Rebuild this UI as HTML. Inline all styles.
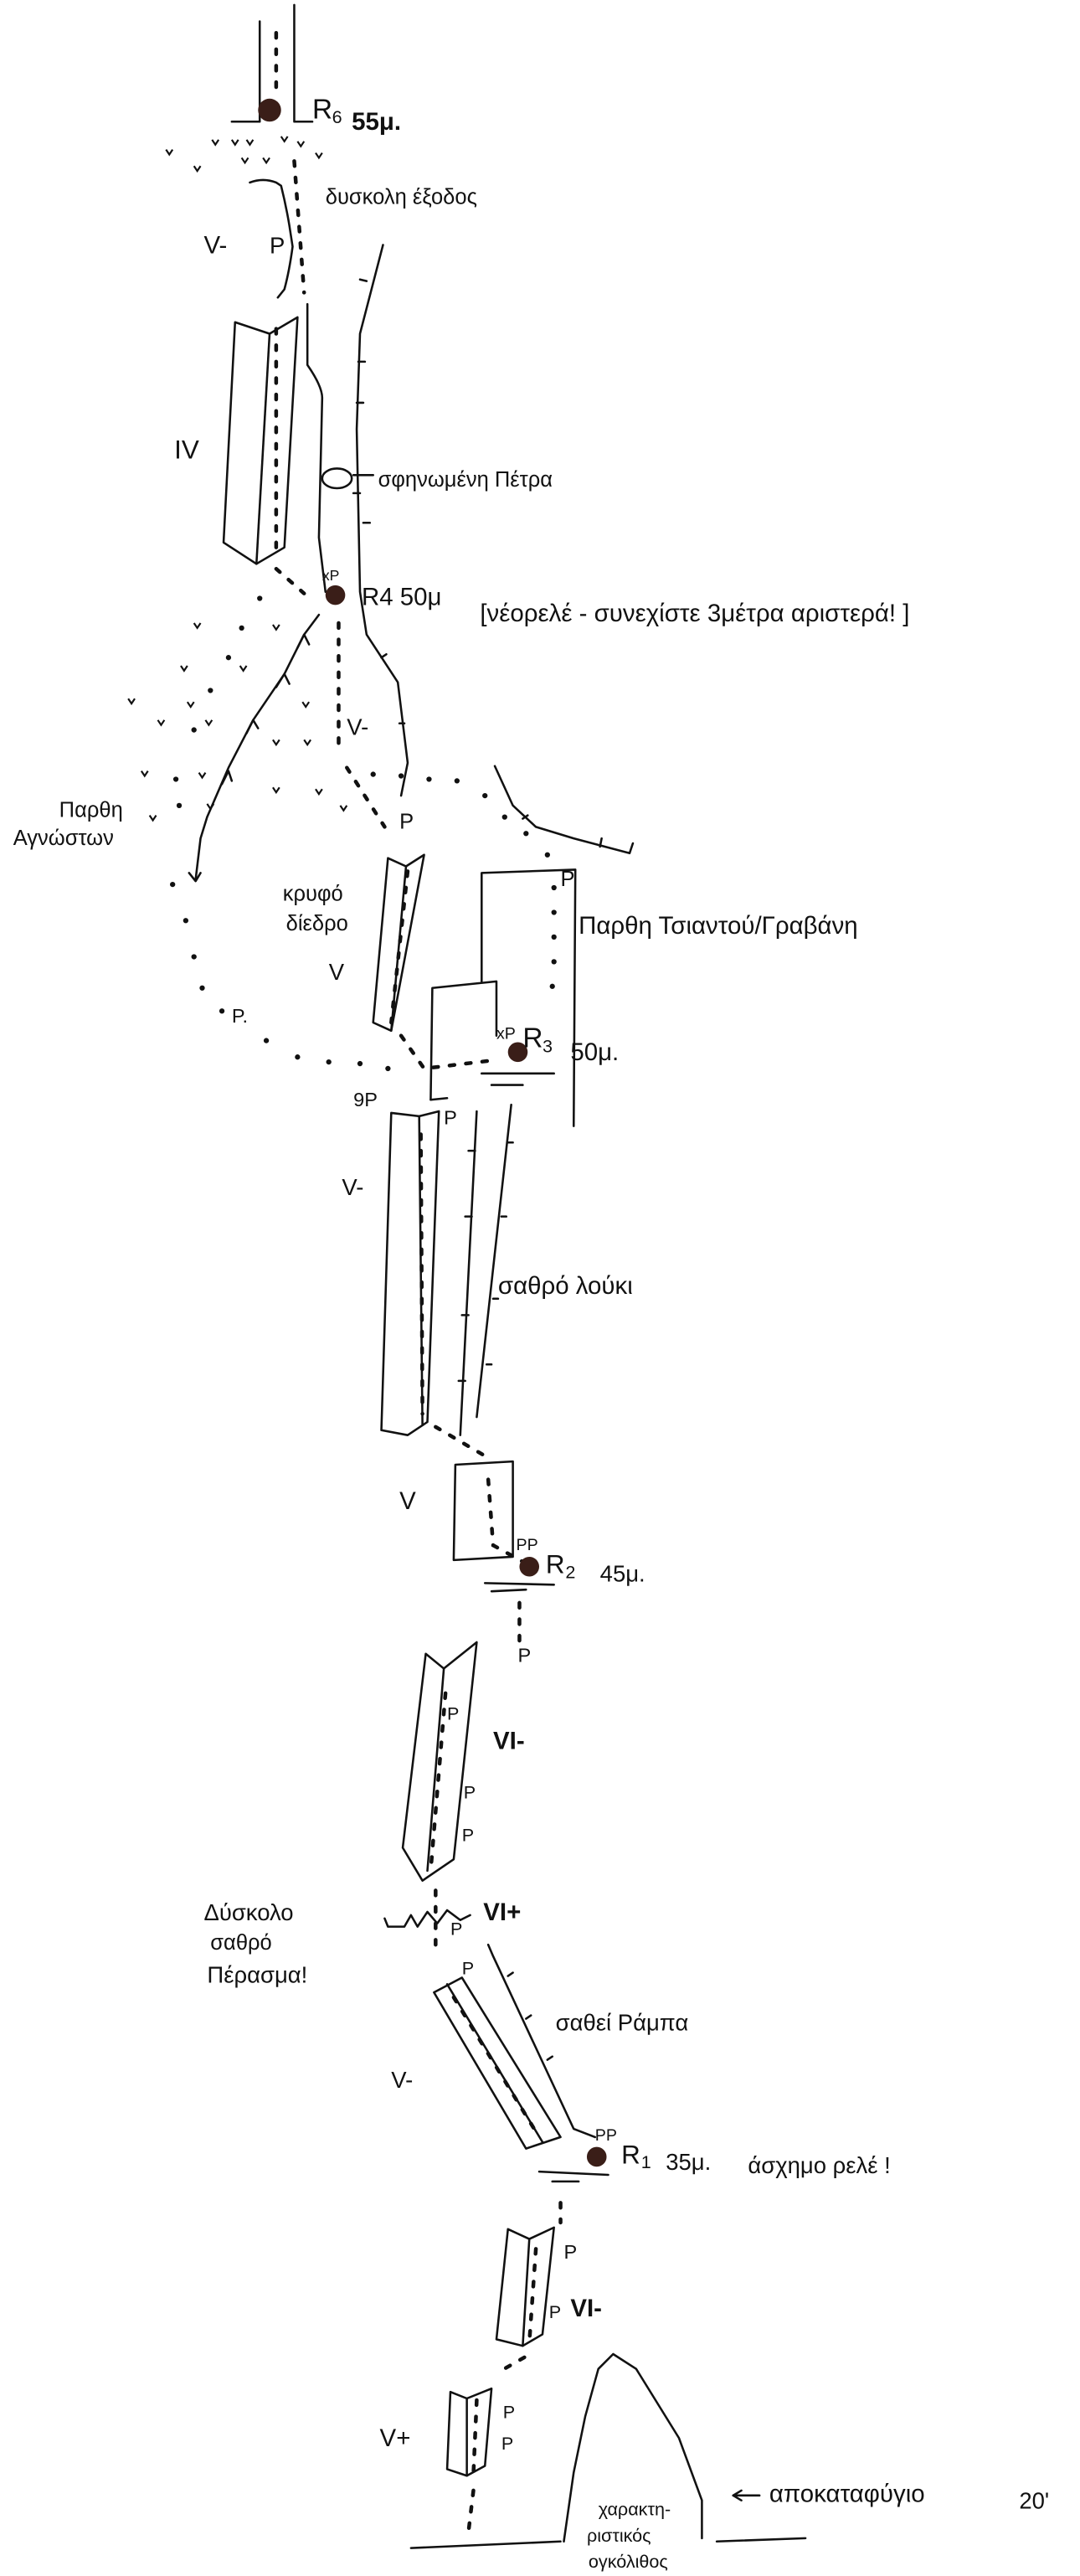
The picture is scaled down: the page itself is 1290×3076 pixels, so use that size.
<!DOCTYPE html>
<html><head><meta charset="utf-8"><style>
html,body{margin:0;padding:0;background:#fff;}
svg{display:block}
text{font-family:"Liberation Sans","DejaVu Sans",sans-serif;fill:#111;}
</style></head><body>
<svg width="1290" height="3076" viewBox="0 0 657 1567" preserveAspectRatio="none" xmlns="http://www.w3.org/2000/svg">
<g fill="none" stroke="#111" stroke-width="1.3" stroke-linecap="round" stroke-linejoin="round">
<path d="M158 13 L158 74 L141 74"/><path d="M179 3 L179 74 L190 74"/>
<path d="M152 111 Q160 108 168 111 L171 113 Q174 125 176 137 L178 150 Q176 165 173 176 L169 181"/>
<path d="M187 185 L187 222 Q196 235 196 242 L194 327 L198 360"/>
<path d="M233 149 L219 203 L217 261 L219 360 L223 386 L242 415 L248 464 L244 484"/>
<path d="M219 170 l4 1 M218 220 l4 0 M217 245 l4 0 M219 300 l-4 0 M221 318 l4 0 M232 400 l3 -2 M246 440 l-3 0"/>
<path d="M143 196 L164 203 L181 193 L173 333 L156 343 L136 330 Z"/><path d="M164 203 L156 343"/>
<ellipse cx="205" cy="291" rx="9" ry="6"/><path d="M215 289 L227 289"/>
<path d="M194 374 L185 386 L173 410 L154 438 L139 467 L126 497 L122 510 L119 535"/>
<path d="M181 394 l4 -8 l3 6 M168 418 l5 -8 l3 6 M150 446 l4 -8 l3 5 M135 477 l4 -8 l2 6 M115 531 l4 5 l3 -5"/>
<path d="M301 466 L312 490 L326 503 L349 510 L383 519 M383 519 l2 -6 M365 515 l1 -5 M318 498 l3 -2"/>
<path d="M236 522 L247 527 L258 520 L238 627 L227 622 Z"/><path d="M247 527 L238 627"/>
<path d="M293 597 L293 531 L350 529 L349 685"/>
<path d="M262 669 L263 601 L302 597 L302 630"/><path d="M262 669 L272 668"/>
<path d="M293 653 L337 653 M299 660 L318 660"/>
<path d="M238 677 L255 679 L267 676 L260 865 L248 873 L232 870 Z"/><path d="M255 679 L257 867"/>
<path d="M290 676 L280 873"/><path d="M311 672 L290 862"/>
<path d="M289 700 l-4 0 M287 740 l-4 0 M285 800 l-4 0 M283 840 l-4 0 M309 695 l3 0 M305 740 l3 0 M300 790 l3 0 M296 830 l3 0"/>
<path d="M277 891 L312 889 L312 947 L276 949 Z"/>
<path d="M295 963 L337 964 M299 968 L320 967"/>
<path d="M259 1006 L270 1015 L290 999 L276 1131 L257 1144 L245 1124 Z"/><path d="M270 1015 L260 1138"/>
<path d="M234 1167 L236 1172 L246 1172 L250 1165 L254 1172 L260 1163 L266 1170 L272 1162 L280 1168 L286 1165"/>
<path d="M264 1212 L281 1203 L341 1300 L320 1307 Z"/><path d="M272 1207 L330 1303"/>
<path d="M297 1183 L300 1190 L349 1295 L362 1300 M309 1202 l3 -2 M320 1228 l3 -2 M333 1253 l3 -2"/>
<path d="M328 1321 L370 1323 M336 1327 L352 1327"/>
<path d="M309 1356 L322 1362 L337 1355 L330 1420 L318 1427 L302 1423 Z"/><path d="M322 1362 L318 1427"/>
<path d="M274 1455 L284 1459 L299 1453 L295 1500 L284 1506 L272 1502 Z"/><path d="M284 1459 L284 1506"/>
<path d="M250 1550 L341 1546"/><path d="M436 1546 L490 1544"/>
<path d="M343 1546 L349 1504 L356 1470 L364 1441 L373 1432 L387 1441 L413 1483 L427 1521 L427 1544"/>
<path d="M446 1518 L462 1518 M446 1518 l5 -3 M446 1518 l5 3"/>
</g>
<g fill="none" stroke="#111" stroke-width="2.3" stroke-linecap="round" stroke-dasharray="3 7">
<path d="M168 20 L168 58"/>
<path d="M179 98 L185 178"/>
<path d="M168 200 L168 336"/>
<path d="M168 346 L185 361"/>
<path d="M206 379 L206 457"/>
<path d="M211 467 L234 503"/>
<path d="M248 530 L238 622"/>
<path d="M244 630 L258 650 L300 645"/>
<path d="M256 690 L257 860"/>
<path d="M265 868 L299 888"/>
<path d="M297 900 L300 940 L318 950"/>
<path d="M316 975 L316 998"/>
<path d="M271 1030 L262 1138"/>
<path d="M265 1150 L265 1190"/>
<path d="M276 1215 L328 1300"/>
<path d="M341 1340 L341 1352"/>
<path d="M326 1368 L322 1425"/>
<path d="M319 1434 L305 1442"/>
<path d="M290 1460 L288 1505"/>
<path d="M288 1515 L285 1540"/>
</g>
<g fill="#111">
<circle cx="158" cy="364" r="1.6"/><circle cx="147" cy="382" r="1.6"/><circle cx="139" cy="400" r="1.6"/><circle cx="128" cy="420" r="1.6"/><circle cx="118" cy="444" r="1.6"/><circle cx="107" cy="474" r="1.6"/><circle cx="109" cy="490" r="1.6"/>
<circle cx="105" cy="538" r="1.6"/><circle cx="113" cy="560" r="1.6"/><circle cx="118" cy="582" r="1.6"/><circle cx="123" cy="601" r="1.6"/><circle cx="135" cy="615" r="1.6"/><circle cx="162" cy="633" r="1.6"/><circle cx="181" cy="643" r="1.6"/><circle cx="200" cy="646" r="1.6"/><circle cx="219" cy="647" r="1.6"/><circle cx="236" cy="650" r="1.6"/>
<circle cx="227" cy="471" r="1.6"/><circle cx="244" cy="472" r="1.6"/><circle cx="261" cy="474" r="1.6"/><circle cx="278" cy="475" r="1.6"/><circle cx="295" cy="484" r="1.6"/><circle cx="307" cy="497" r="1.6"/><circle cx="320" cy="507" r="1.6"/><circle cx="333" cy="520" r="1.6"/>
<circle cx="337" cy="540" r="1.6"/><circle cx="337" cy="555" r="1.6"/><circle cx="337" cy="570" r="1.6"/><circle cx="337" cy="585" r="1.6"/><circle cx="336" cy="600" r="1.6"/>
<circle cx="164" cy="67" r="7" fill="#3a1e18"/>
<circle cx="204" cy="362" r="6" fill="#3a1e18"/>
<circle cx="315" cy="640" r="6" fill="#3a1e18"/>
<circle cx="322" cy="953" r="6" fill="#3a1e18"/>
<circle cx="363" cy="1312" r="6" fill="#3a1e18"/>
</g>
<g fill="none" stroke="#111" stroke-width="1.1">
<path d="M101 91 l2 3 l2 -3 M118 101 l2 3 l2 -3 M129 85 l2 3 l2 -3 M141 85 l2 3 l2 -3 M150 85 l2 3 l2 -3 M147 96 l2 3 l2 -3 M160 96 l2 3 l2 -3 M181 86 l2 3 l2 -3 M192 93 l2 3 l2 -3 M171 83 l2 3 l2 -3"/>
<path d="M118 379 l2 3 l2 -3 M166 380 l2 3 l2 -3 M110 405 l2 3 l2 -3 M146 405 l2 3 l2 -3 M78 425 l2 3 l2 -3 M96 438 l2 3 l2 -3 M114 427 l2 3 l2 -3 M125 438 l2 3 l2 -3 M184 427 l2 3 l2 -3 M166 450 l2 3 l2 -3 M185 450 l2 3 l2 -3 M86 469 l2 3 l2 -3 M121 470 l2 3 l2 -3 M166 479 l2 3 l2 -3 M192 480 l2 3 l2 -3 M91 496 l2 3 l2 -3 M126 489 l2 3 l2 -3 M207 490 l2 3 l2 -3"/>
</g>
<g font-size="14">
<text x="190" y="72" font-size="17">R</text><text x="202" y="75" font-size="11">6</text><text x="214" y="79" font-size="15" font-weight="bold">55μ.</text>
<text x="198" y="124" font-size="13">δυσκολη έξοδος</text>
<text x="124" y="154" font-size="15" font-family="Liberation Serif">V-</text><text x="164" y="154" font-size="14">P</text>
<text x="106" y="279" font-size="16" font-family="Liberation Serif">IV</text>
<text x="230" y="296" font-size="13">σφηνωμένη Πέτρα</text>
<text x="196" y="353" font-size="9">xP</text>
<text x="220" y="368" font-size="15">R4 50μ</text>
<text x="292" y="378" font-size="15">[νέορελέ - συνεχίστε 3μέτρα αριστερά! ]</text>
<text x="211" y="447" font-size="14" font-family="Liberation Serif">V-</text>
<text x="243" y="504" font-size="13">P</text>
<text x="36" y="497" font-size="13">Παρθη</text>
<text x="8" y="514" font-size="13">Αγνώστων</text>
<text x="172" y="548" font-size="13">κρυφό</text>
<text x="174" y="566" font-size="13">δίεδρο</text>
<text x="200" y="596" font-size="14" font-family="Liberation Serif">V</text>
<text x="341" y="539" font-size="13">P</text>
<text x="352" y="568" font-size="15">Παρθη Τσιαντού/Γραβάνη</text>
<text x="141" y="622" font-size="12">P.</text>
<text x="302" y="632" font-size="10">xP</text><text x="318" y="637" font-size="17">R</text><text x="330" y="640" font-size="11">3</text>
<text x="347" y="645" font-size="15">50μ.</text>
<text x="215" y="673" font-size="12">9P</text>
<text x="270" y="684" font-size="12">P</text>
<text x="208" y="727" font-size="14" font-family="Liberation Serif">V-</text>
<text x="303" y="787" font-size="15">σαθρό λούκι</text>
<text x="243" y="918" font-size="15" font-family="Liberation Serif">V</text>
<text x="314" y="943" font-size="10">PP</text>
<text x="332" y="957" font-size="16">R</text><text x="344" y="960" font-size="11">2</text>
<text x="365" y="962" font-size="14">45μ.</text>
<text x="315" y="1011" font-size="12">P</text>
<text x="272" y="1046" font-size="11">P</text>
<text x="300" y="1064" font-size="15" font-family="Liberation Serif" font-weight="bold">VI-</text>
<text x="282" y="1094" font-size="11">P</text><text x="281" y="1120" font-size="11">P</text>
<text x="124" y="1168" font-size="14">Δύσκολο</text>
<text x="128" y="1186" font-size="13">σαθρό</text>
<text x="126" y="1206" font-size="14">Πέρασμα!</text>
<text x="294" y="1168" font-size="15" font-family="Liberation Serif" font-weight="bold">VI+</text>
<text x="274" y="1177" font-size="11">P</text>
<text x="281" y="1201" font-size="11">P</text>
<text x="338" y="1235" font-size="14">σαθεί Ράμπα</text>
<text x="238" y="1270" font-size="14" font-family="Liberation Serif">V-</text>
<text x="362" y="1302" font-size="10">PP</text>
<text x="378" y="1316" font-size="16">R</text><text x="390" y="1319" font-size="11">1</text>
<text x="405" y="1320" font-size="14">35μ.</text>
<text x="455" y="1322" font-size="14">άσχημο ρελέ !</text>
<text x="343" y="1374" font-size="12">P</text>
<text x="334" y="1410" font-size="11">P</text>
<text x="347" y="1409" font-size="15" font-family="Liberation Serif" font-weight="bold">VI-</text>
<text x="306" y="1471" font-size="11">P</text><text x="305" y="1490" font-size="11">P</text>
<text x="231" y="1488" font-size="15" font-family="Liberation Serif">V+</text>
<text x="364" y="1530" font-size="11">χαρακτη-</text>
<text x="357" y="1546" font-size="11">ριστικός</text>
<text x="358" y="1562" font-size="11">ογκόλιθος</text>
<text x="468" y="1522" font-size="15">αποκαταφύγιο</text>
<text x="620" y="1526" font-size="14">20'</text>
</g>
</svg>
</body></html>
